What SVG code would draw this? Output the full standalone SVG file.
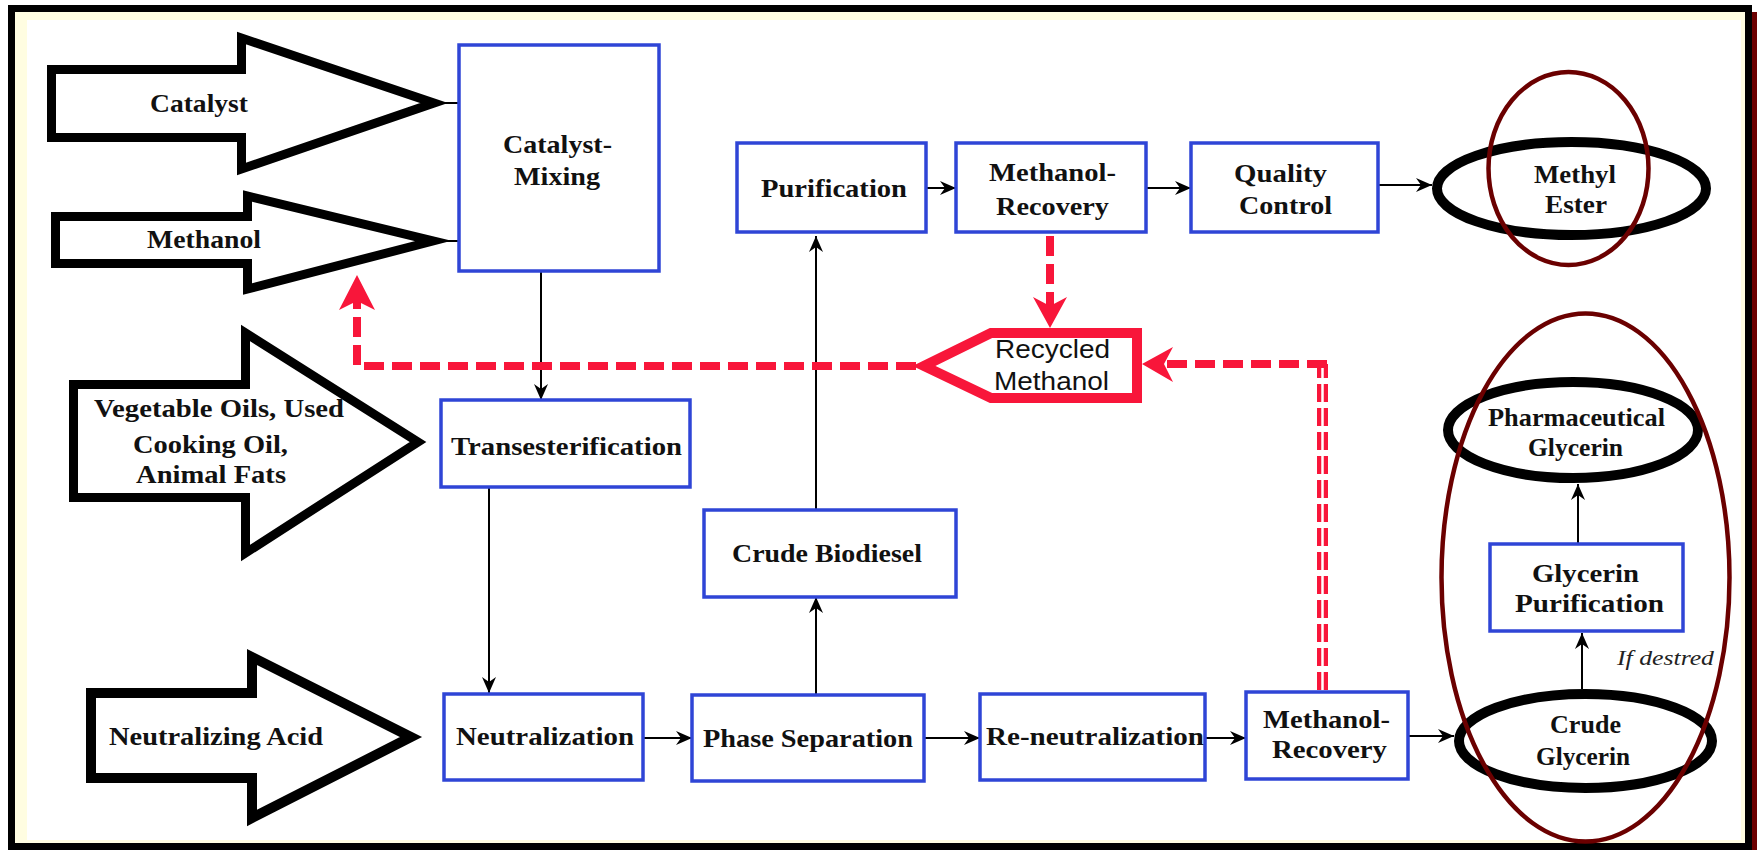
<svg xmlns="http://www.w3.org/2000/svg" width="1757" height="850" viewBox="0 0 1757 850">
<defs>
<style>
.box{fill:#fff;stroke:#2f45d6;stroke-width:3.5}
.blk{fill:#fff;stroke:#000;stroke-width:9;stroke-linejoin:miter;stroke-miterlimit:10}
.ell{fill:#fff;stroke:#000;stroke-width:10}
.ring{fill:none;stroke:#6b0000;stroke-width:4.5}
.t{font-family:"Liberation Serif","Times New Roman",serif;font-weight:bold;font-size:25px;fill:#111;text-anchor:middle}
.ts{font-family:"Liberation Sans",Arial,sans-serif;font-size:26px;fill:#111;text-anchor:middle}
.ti{font-family:"Liberation Serif","Times New Roman",serif;font-style:italic;font-size:22px;fill:#222}
.ln{fill:none;stroke:#000;stroke-width:2}
.rd{fill:none;stroke:#f8163a;stroke-width:8;stroke-dasharray:20 8}
.rh{fill:#f8163a}
</style>
<marker id="ah" markerUnits="userSpaceOnUse" viewBox="0 0 16 16" markerWidth="16" markerHeight="16" refX="16" refY="8" orient="auto">
<path d="M0,1 L16,8 L0,15 L5,8 Z" fill="#000"/>
</marker>
</defs>

<!-- frame -->
<rect x="1752" y="12" width="5" height="838" fill="#6b0000"/>
<rect x="11.5" y="8.5" width="1737" height="838" fill="#fffde1" stroke="#000" stroke-width="7"/>
<rect x="27" y="20" width="1714" height="820" fill="#fff"/>

<!-- connectors -->
<g id="connectors">
<line class="ln" x1="440" y1="103" x2="459" y2="103"/>
<line class="ln" x1="440" y1="241" x2="459" y2="241"/>
<line class="ln" x1="541" y1="271" x2="541" y2="400" marker-end="url(#ah)"/>
<line class="ln" x1="489" y1="487" x2="489" y2="693" marker-end="url(#ah)"/>
<line class="ln" x1="643" y1="738" x2="692" y2="738" marker-end="url(#ah)"/>
<line class="ln" x1="816" y1="695" x2="816" y2="597" marker-end="url(#ah)"/>
<line class="ln" x1="816" y1="510" x2="816" y2="236" marker-end="url(#ah)"/>
<line class="ln" x1="925" y1="738" x2="980" y2="738" marker-end="url(#ah)"/>
<line class="ln" x1="1205" y1="738" x2="1246" y2="738" marker-end="url(#ah)"/>
<line class="ln" x1="1408" y1="736" x2="1454" y2="736" marker-end="url(#ah)"/>
<line class="ln" x1="1582" y1="689" x2="1582" y2="633" marker-end="url(#ah)"/>
<line class="ln" x1="1578" y1="544" x2="1578" y2="484" marker-end="url(#ah)"/>
<line class="ln" x1="927" y1="188" x2="956" y2="188" marker-end="url(#ah)"/>
<line class="ln" x1="1146" y1="188" x2="1191" y2="188" marker-end="url(#ah)"/>
<line class="ln" x1="1378" y1="185" x2="1432" y2="185" marker-end="url(#ah)"/>
<!-- red recycle lines -->
<path class="rd" d="M1050,236 V306"/>
<polygon class="rh" points="1050,328 1033,297 1050,306 1067,297"/>
<path class="rd" d="M916,366 H357 V300"/>
<polygon class="rh" points="357,275 339,310 357,301 375,310"/>
<path class="rd" d="M1322.5,690 V364" style="stroke-width:11;stroke-dasharray:18 6"/>
<line x1="1322.5" y1="692" x2="1322.5" y2="368" stroke="#fff" stroke-width="2.5"/>
<path class="rd" d="M1327,364 H1166"/>
<polygon class="rh" points="1142,364 1173,347 1164,364 1173,382"/>
</g>

<!-- input block arrows -->
<g id="in-catalyst">
<path class="blk" d="M51.5,69.5 H241.5 V38 L434,103 L241.5,169 V137.5 H51.5 Z"/>
<text class="t" x="199" y="112" textLength="98" lengthAdjust="spacingAndGlyphs">Catalyst</text>
</g>
<g id="in-methanol">
<path class="blk" d="M55.5,216.5 H247.5 V196 L433,241 L247.5,289 V263.5 H55.5 Z"/>
<text class="t" x="204" y="248" textLength="114" lengthAdjust="spacingAndGlyphs">Methanol</text>
</g>
<g id="in-oils">
<path class="blk" d="M73.5,384.5 H245.5 V333 L418,442 L245.5,553 V497.5 H73.5 Z"/>
<text class="t" x="219" y="417" textLength="250" lengthAdjust="spacingAndGlyphs">Vegetable Oils, Used</text>
<text class="t" x="210.5" y="453" textLength="155" lengthAdjust="spacingAndGlyphs">Cooking Oil,</text>
<text class="t" x="211" y="483" textLength="150" lengthAdjust="spacingAndGlyphs">Animal Fats</text>
</g>
<g id="in-acid">
<path class="blk" d="M91,693 H252 V657 L411,737 L252,818 V778 H91 Z" style="stroke-width:10"/>
<text class="t" x="216" y="745" textLength="214" lengthAdjust="spacingAndGlyphs">Neutralizing Acid</text>
</g>

<!-- process boxes -->
<g id="catalyst-mixing">
<rect class="box" x="459" y="45" width="200" height="226"/>
<text class="t" x="557.5" y="153" textLength="109" lengthAdjust="spacingAndGlyphs">Catalyst-</text>
<text class="t" x="557" y="185" textLength="86" lengthAdjust="spacingAndGlyphs">Mixing</text>
</g>
<g id="transesterification">
<rect class="box" x="441" y="400" width="249" height="87"/>
<text class="t" x="566.5" y="455" textLength="231" lengthAdjust="spacingAndGlyphs">Transesterification</text>
</g>
<g id="neutralization">
<rect class="box" x="444" y="694" width="199" height="86"/>
<text class="t" x="545" y="745" textLength="178" lengthAdjust="spacingAndGlyphs">Neutralization</text>
</g>
<g id="phase-separation">
<rect class="box" x="692" y="695" width="232" height="86"/>
<text class="t" x="808" y="747" textLength="210" lengthAdjust="spacingAndGlyphs">Phase Separation</text>
</g>
<g id="re-neutralization">
<rect class="box" x="980" y="694" width="225" height="86"/>
<text class="t" x="1095" y="745" textLength="218" lengthAdjust="spacingAndGlyphs">Re-neutralization</text>
</g>
<g id="methanol-recovery-bottom">
<rect class="box" x="1246" y="692" width="162" height="87"/>
<text class="t" x="1326.5" y="728" textLength="127" lengthAdjust="spacingAndGlyphs">Methanol-</text>
<text class="t" x="1329.5" y="758" textLength="115" lengthAdjust="spacingAndGlyphs">Recovery</text>
</g>
<g id="crude-biodiesel">
<rect class="box" x="704" y="510" width="252" height="87"/>
<text class="t" x="827" y="562" textLength="190" lengthAdjust="spacingAndGlyphs">Crude Biodiesel</text>
</g>
<g id="purification">
<rect class="box" x="737" y="143" width="189" height="89"/>
<text class="t" x="834" y="197" textLength="146" lengthAdjust="spacingAndGlyphs">Purification</text>
</g>
<g id="methanol-recovery-top">
<rect class="box" x="956" y="143" width="190" height="89"/>
<text class="t" x="1052.5" y="181" textLength="127" lengthAdjust="spacingAndGlyphs">Methanol-</text>
<text class="t" x="1052.5" y="215" textLength="113" lengthAdjust="spacingAndGlyphs">Recovery</text>
</g>
<g id="quality-control">
<rect class="box" x="1191" y="143" width="187" height="89"/>
<text class="t" x="1280.5" y="182" textLength="93" lengthAdjust="spacingAndGlyphs">Quality</text>
<text class="t" x="1285.5" y="214" textLength="93" lengthAdjust="spacingAndGlyphs">Control</text>
</g>
<g id="glycerin-purification">
<rect class="box" x="1490" y="544" width="193" height="87"/>
<text class="t" x="1585.5" y="582" textLength="107" lengthAdjust="spacingAndGlyphs">Glycerin</text>
<text class="t" x="1589.5" y="612" textLength="149" lengthAdjust="spacingAndGlyphs">Purification</text>
</g>

<!-- recycled methanol -->
<g id="recycled-methanol">
<path d="M1137,333 H991 L924,366 L991,398 H1137 Z" fill="#fff" stroke="#f8163a" stroke-width="10" stroke-linejoin="miter"/>
<text class="ts" x="1052.5" y="358" textLength="115" lengthAdjust="spacingAndGlyphs">Recycled</text>
<text class="ts" x="1051.5" y="390" textLength="115" lengthAdjust="spacingAndGlyphs">Methanol</text>
</g>

<!-- products -->
<g id="methyl-ester">
<ellipse class="ell" cx="1571.5" cy="188.5" rx="134.5" ry="46.5"/>
<text class="t" x="1575" y="183" textLength="82" lengthAdjust="spacingAndGlyphs">Methyl</text>
<text class="t" x="1576" y="213" textLength="62" lengthAdjust="spacingAndGlyphs">Ester</text>
</g>
<g id="pharmaceutical-glycerin">
<ellipse class="ell" cx="1573" cy="430" rx="125" ry="48"/>
<text class="t" x="1576.5" y="426" textLength="177" lengthAdjust="spacingAndGlyphs">Pharmaceutical</text>
<text class="t" x="1575.5" y="456" textLength="95" lengthAdjust="spacingAndGlyphs">Glycerin</text>
</g>
<g id="crude-glycerin">
<ellipse class="ell" cx="1585.5" cy="741" rx="126.5" ry="47"/>
<text class="t" x="1585.5" y="733" textLength="71" lengthAdjust="spacingAndGlyphs">Crude</text>
<text class="t" x="1583" y="765" textLength="94" lengthAdjust="spacingAndGlyphs">Glycerin</text>
</g>
<g id="if-desired-label">
<text class="ti" x="1617" y="665" textLength="97" lengthAdjust="spacingAndGlyphs">If destred</text>
</g>

<!-- highlight rings -->
<g id="highlights">
<ellipse class="ring" cx="1568.5" cy="168.5" rx="80" ry="96.5"/>
<ellipse class="ring" cx="1585.5" cy="577.5" rx="144" ry="264"/>
</g>
</svg>
